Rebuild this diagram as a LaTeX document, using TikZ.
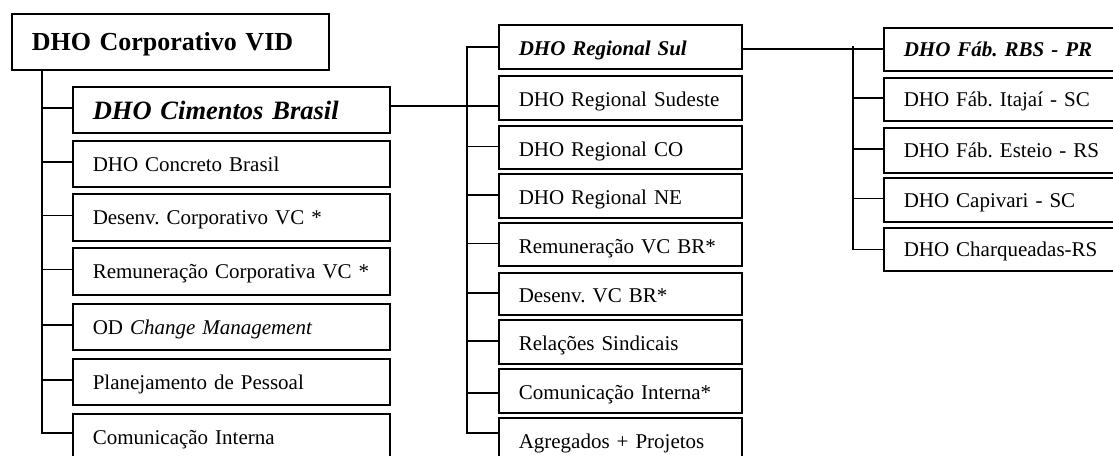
\documentclass[tikz,border=0pt]{standalone}
\usepackage{fontspec}
\setmainfont{Liberation Serif}
\frenchspacing
\begin{document}
\begin{tikzpicture}[x=1pt,y=-1pt,
  box/.style={draw, line width=1.5pt, anchor=north west, inner xsep=20pt, inner ysep=0pt,
    text height=15pt, text depth=0pt, align=left,
    font=\fontsize{21}{25}\selectfont},
  lbox/.style={box, minimum width=317pt, text width=277pt},
  mbox/.style={box, minimum width=243pt, text width=203pt, text height=18pt},
  rbox/.style={box, minimum width=240pt, text width=200pt},
  link/.style={line width=1.5pt}]
\useasboundingbox (0,0) rectangle (1113,455);
\clip (0,0) rectangle (1113,455);
\fill[white] (0,0) rectangle (1113,455);

% top unit
\node[lbox, minimum height=56pt, text height=17pt, font=\fontsize{26}{30}\selectfont\bfseries] (vid) at (11,13) {DHO Corporativo VID};

% left column
\node[lbox, minimum height=46pt, text height=19.5pt, font=\fontsize{26.5}{30}\selectfont\bfseries\itshape] (cim) at (72,86) {DHO Cimentos Brasil};
\node[lbox, minimum height=46pt] (conc) at (72,140) {DHO Concreto Brasil};
\node[lbox, minimum height=47pt] (desc) at (72,193) {Desenv. Corporativo VC *};
\node[lbox, minimum height=47pt] (remc) at (72,247) {Remunera\c{c}\~ao Corporativa VC *};
\node[lbox, minimum height=46pt] (od) at (72,303) {OD \textit{Change Management}};
\node[lbox, minimum height=46pt] (plan) at (72,358) {Planejamento de Pessoal};
\node[lbox, minimum height=46pt] (comc) at (72,413) {Comunica\c{c}\~ao Interna};

% middle column
\node[mbox, minimum height=44pt, font=\fontsize{21}{25}\selectfont\bfseries\itshape] (sul) at (498,24) {DHO Regional Sul};
\node[mbox, minimum height=44pt] (sud) at (498,75) {DHO Regional Sudeste};
\node[mbox, minimum height=43pt] (co) at (498,125) {DHO Regional CO};
\node[mbox, minimum height=44pt] (ne) at (498,173) {DHO Regional NE};
\node[mbox, minimum height=43pt] (remb) at (498,222) {Remunera\c{c}\~ao VC BR*};
\node[mbox, minimum height=42pt] (desb) at (498,272) {Desenv. VC BR*};
\node[mbox, minimum height=44pt] (rel) at (498,319) {Rela\c{c}\~oes Sindicais};
\node[mbox, minimum height=44pt] (comb) at (498,368) {Comunica\c{c}\~ao Interna*};
\node[mbox, minimum height=44pt] (agr) at (498,417) {Agregados + Projetos};

% right column
\node[rbox, minimum height=43pt, font=\fontsize{21}{25}\selectfont\bfseries\itshape] (rbs) at (883,27) {DHO F\'ab. RBS - PR};
\node[rbox, minimum height=43pt] (ita) at (883,77) {DHO F\'ab. Itaja\'i - SC};
\node[rbox, minimum height=45pt] (est) at (883,127) {DHO F\'ab. Esteio - RS};
\node[rbox, minimum height=44pt] (cap) at (883,177) {DHO Capivari - SC};
\node[rbox, minimum height=43pt] (cha) at (883,227) {DHO Charqueadas-RS};

% left tree
\draw[link] ([xshift=31pt]vid.south west) |- ([yshift=4pt]comc.west);
\foreach \n in {cim,conc,desc,remc,od,plan}
  \draw[link] ([yshift=2pt]\n.west) -- +(-30pt,0);

% middle tree
\draw[link] (sul.west) -- ++(-31pt,0) |- ([yshift=7pt]agr.west);
\draw[link] ([yshift=4pt]cim.east) -- ([yshift=-8pt]sud.west);
\foreach \n in {co,ne,remb,desb,rel}
  \draw[link] ([yshift=1pt]\n.west) -- +(-31pt,0);
\draw[link] ([yshift=-2pt]comb.west) -- +(-31pt,0);

% right tree
\draw[link] ([yshift=-2pt]sul.east) -- ([yshift=0.5pt]rbs.west);
\draw[link] ([xshift=-30pt,yshift=3.5pt]rbs.west) |- (cha.west);
\foreach \n in {ita,est,cap}
  \draw[link] ([yshift=1.5pt]\n.west) -- +(-30pt,0);
\end{tikzpicture}
\end{document}
